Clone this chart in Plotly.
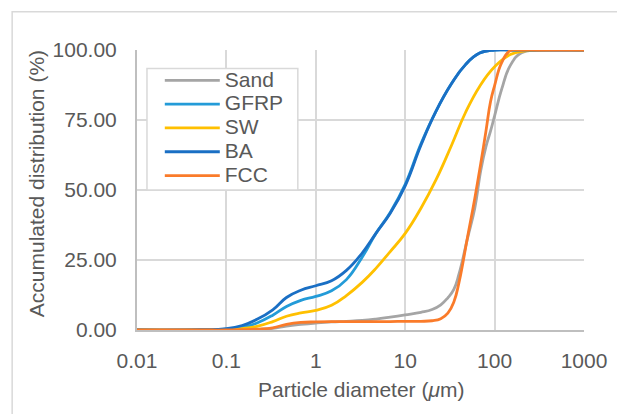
import plotly.graph_objects as go

# particle diameters (um) at which the curves were read
diam_a = [0.01, 0.05, 0.1, 0.15, 0.22, 0.33, 0.47, 0.68, 1, 1.5, 2.2, 3.3, 4.7, 6.8, 10,
          15, 22, 33, 47, 68, 100, 150, 220, 330, 1000]
diam_b = [0.01, 0.05, 0.1, 0.15, 0.22, 0.33, 0.47, 0.68, 1, 1.5, 2.2, 3.3, 4.7, 6.8, 10,
          15, 20, 25, 30, 35, 40, 50, 60, 70, 80, 90, 100, 120, 150, 200, 300, 1000]

# accumulated distribution (%)
gfrp = [0, 0.05, 0.3, 0.9, 2.5, 5.3, 8.4, 10.6, 12.0, 14.0, 18.0, 26, 34.5, 42, 52,
        66.5, 78, 88, 94.7, 98.9, 100, 100, 100, 100, 100]
sw = [0, 0, 0.2, 0.5, 1.3, 3.0, 4.9, 6.1, 7.0, 8.8, 12.3, 17.0, 22, 28, 34.5,
      43.5, 53.5, 66, 77.5, 87, 94, 98.4, 99.7, 100, 100]
ba = [0, 0.1, 0.5, 1.6, 3.8, 7.2, 11.6, 14.2, 15.8, 17.6, 21.3, 27.5, 34.5, 41.7, 51.5,
      66, 78, 88, 94.7, 98.9, 100, 100, 100, 100, 100]
sand = [0, 0, 0, 0.05, 0.2, 0.6, 1.4, 2.0, 2.5, 2.9, 3.1, 3.4, 3.9, 4.6, 5.4,
        6.3, 7.3, 9.0, 11.5, 14.5, 20, 33, 43.5, 57, 65.5, 71, 76.5, 86, 94.5, 99, 100, 100]
fcc = [0, 0, 0, 0.1, 0.3, 0.8, 2.0, 2.7, 2.9, 3.0, 3.0, 3.0, 3.0, 3.0, 3.1,
       3.1, 3.3, 4.0, 6.0, 10, 17, 33.5, 47, 59.5, 71, 81.5, 87.3, 95.5, 99.8, 100, 100, 100]

series_names = ["Sand", "GFRP", "SW", "BA", "FCC"]
series_x = [diam_b, diam_a, diam_a, diam_a, diam_b]
series_values = [sand, gfrp, sw, ba, fcc]
series_colors = ["#A5A5A5", "#239BD8", "#FFC000", "#1A6FC4", "#FA7B2A"]

x_tickvals = [0.01, 0.1, 1, 10, 100, 1000]
x_ticktext = ["0.01", "0.1", "1", "10", "100", "1000"]
y_tickvals = [0, 25, 50, 75, 100]
y_ticktext = ["0.00", "25.00", "50.00", "75.00", "100.00"]

FONT = "Liberation Sans, Arial, sans-serif"
TXT = "#595959"
FS = 21

fig = go.Figure()
for name, xs, vals, col in zip(series_names, series_x, series_values, series_colors):
    fig.add_trace(go.Scatter(
        x=xs, y=vals, mode="lines",
        name="<span style='font-size:21px'>" + name + "</span>",
        line=dict(color=col, width=2.8, shape="spline", smoothing=1.3),
    ))

fig.update_layout(
    width=617, height=414,
    margin=dict(l=137, r=32.5, t=49.5, b=83.5, autoexpand=False),
    paper_bgcolor="white", plot_bgcolor="white",
    font=dict(family=FONT, size=FS, color=TXT),
    showlegend=True,
    legend=dict(
        x=0.051, y=0.952, xanchor="left", yanchor="top",
        bgcolor="rgba(0,0,0,0)", borderwidth=0,
        font=dict(family=FONT, size=16, color=TXT),
        itemwidth=55, tracegroupgap=0,
    ),
    xaxis=dict(
        type="log", range=[-2, 3],
        tickvals=x_tickvals, ticktext=x_ticktext,
        showgrid=True, gridcolor="#D9D9D9", gridwidth=1.5,
        showline=True, linecolor="#BFBFBF", linewidth=2,
        ticks="", ticklabelstandoff=11,
        tickfont=dict(family=FONT, size=FS, color=TXT),
        zeroline=False, automargin=False,
    ),
    yaxis=dict(
        range=[0, 100],
        tickvals=y_tickvals, ticktext=y_ticktext,
        showgrid=True, gridcolor="#D9D9D9", gridwidth=1.5,
        showline=True, linecolor="#BFBFBF", linewidth=2,
        ticks="", ticklabelstandoff=14,
        tickfont=dict(family=FONT, size=FS, color=TXT),
        zeroline=False, automargin=False,
    ),
    annotations=[
        dict(text="Particle diameter (<i>μ</i>m)", xref="paper", yref="paper",
             x=0.5, y=-0.2117, xanchor="center", yanchor="middle", showarrow=False,
             font=dict(family=FONT, size=FS, color=TXT)),
        dict(text="Accumulated distribution (%)", xref="paper", yref="paper",
             x=-0.2257, y=0.521, xanchor="center", yanchor="middle", showarrow=False,
             textangle=-90, font=dict(family=FONT, size=FS, color=TXT)),
    ],
    shapes=[
        dict(type="rect", xref="paper", yref="paper",
             x0=-0.2793, x1=1.09, y0=-0.33, y1=1.137,
             line=dict(color="#D9D9D9", width=1.5), fillcolor="rgba(0,0,0,0)", layer="below"),
        dict(type="rect", xref="paper", yref="paper",
             x0=0.0223, x1=0.3598, y0=0.5, y1=0.934,
             line=dict(color="#D9D9D9", width=1.5), fillcolor="white", layer="above"),
    ],
)

fig.write_html("out.html")
